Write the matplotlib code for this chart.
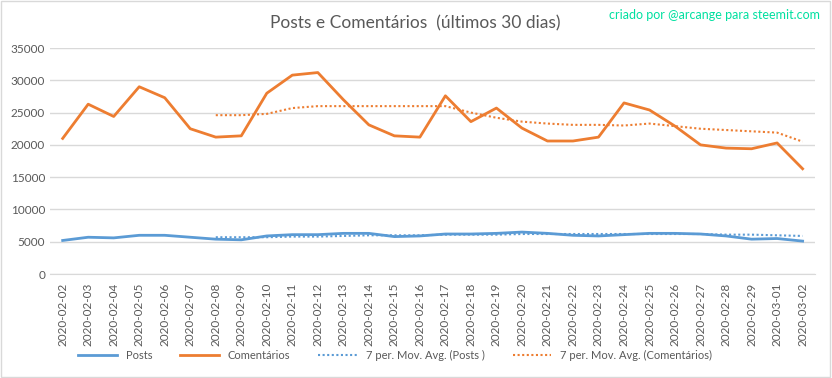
import matplotlib.pyplot as plt
from matplotlib.patches import Rectangle

dates = ['2020-02-02', '2020-02-03', '2020-02-04', '2020-02-05', '2020-02-06',
         '2020-02-07', '2020-02-08', '2020-02-09', '2020-02-10', '2020-02-11',
         '2020-02-12', '2020-02-13', '2020-02-14', '2020-02-15', '2020-02-16',
         '2020-02-17', '2020-02-18', '2020-02-19', '2020-02-20', '2020-02-21',
         '2020-02-22', '2020-02-23', '2020-02-24', '2020-02-25', '2020-02-26',
         '2020-02-27', '2020-02-28', '2020-02-29', '2020-03-01', '2020-03-02']

posts = [5200, 5700, 5600, 6000, 6000, 5700, 5400, 5300, 5900, 6100,
         6100, 6300, 6300, 5800, 5900, 6200, 6200, 6300, 6500, 6300,
         6000, 5900, 6100, 6300, 6300, 6200, 5900, 5400, 5500, 5100]

comentarios = [21000, 26300, 24400, 29000, 27300, 22500, 21200, 21400, 28000, 30800,
               31200, 27000, 23100, 21400, 21200, 27600, 23600, 25700, 22600, 20600,
               20600, 21200, 26500, 25400, 22900, 20000, 19500, 19400, 20300, 16300]

# moving averages start at the 7th day
ma_posts = [5700, 5700, 5700, 5800, 5800, 5900, 6000, 6000, 6000, 6100,
            6100, 6100, 6200, 6200, 6200, 6200, 6200, 6200, 6200, 6200,
            6100, 6100, 6000, 5900]

ma_coment = [24600, 24600, 24800, 25700, 26000, 26000, 26000, 26000, 26000, 26000,
             25000, 24200, 23600, 23300, 23100, 23100, 23000, 23300, 22900, 22500,
             22300, 22100, 21900, 20500]

blue = '#5b9bd5'
orange = '#ed7d31'
grey = '#595959'

plt.rcParams['font.family'] = ['Lato', 'DejaVu Sans']

fig = plt.figure(figsize=(8.32, 3.78), dpi=100)
ax = fig.add_axes([0.060, 0.275, 0.920, 0.598])

x = list(range(len(dates)))
xm = x[6:]
ax.plot(x, posts, color=blue, lw=2, label='Posts')
ax.plot(x, comentarios, color=orange, lw=2, label='Comentários')
ax.plot(xm, ma_posts, color=blue, lw=1.5, ls=(0, (1, 1.2)), label='7 per. Mov. Avg. (Posts )')
ax.plot(xm, ma_coment, color=orange, lw=1.5, ls=(0, (1, 1.2)), label='7 per. Mov. Avg. (Comentários)')

ax.set_xlim(-0.5, len(dates) - 0.5)
ax.set_ylim(0, 35000)
ax.set_yticks(range(0, 35001, 5000))
ax.set_xticks(x)
ax.set_xticklabels(dates, rotation=90)
ax.tick_params(length=0, colors=grey, labelsize=8.5)
ax.tick_params(axis='x', pad=6)
ax.grid(axis='y', color='#d9d9d9', lw=1)
ax.set_axisbelow(True)
for s in ['top', 'right', 'left']:
    ax.spines[s].set_visible(False)
ax.spines['bottom'].set_color('#d9d9d9')

fig.text(0.499, 0.938, 'Posts e Comentários  (últimos 30 dias)', ha='center', va='center',
         fontsize=12.5, color=grey)
fig.text(0.986, 0.96, 'criado por @arcange para steemit.com', ha='right', va='center',
         fontsize=9, color='#00e0a0')

fig.legend(loc='center', bbox_to_anchor=(0.475, 0.06), ncol=4, frameon=False,
           fontsize=8, labelcolor=grey, handlelength=3.5, columnspacing=2.5)

fig.patches.append(Rectangle((0.001, 0.002), 0.997, 0.995, transform=fig.transFigure,
                             fill=False, edgecolor='#d9d9d9', lw=1))

fig.savefig('out.png', dpi=100)
